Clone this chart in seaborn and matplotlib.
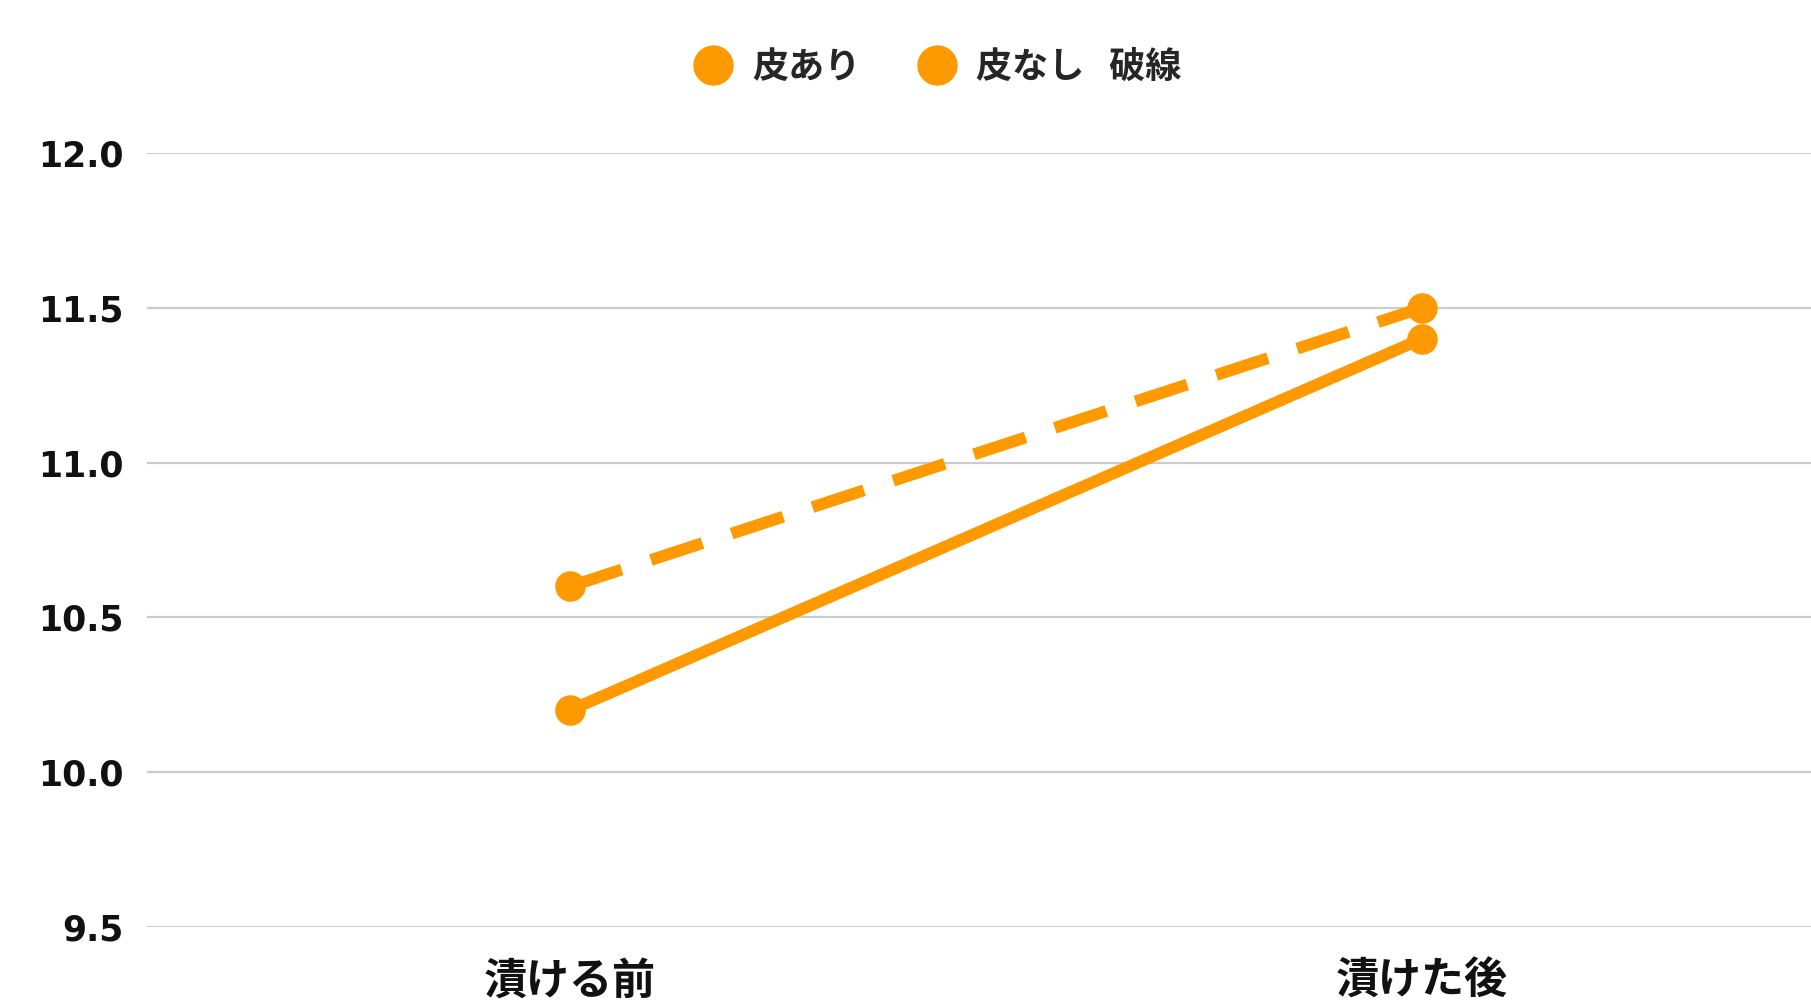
import matplotlib
matplotlib.use("Agg")
import matplotlib.pyplot as plt
from matplotlib.lines import Line2D
import seaborn as sns
import pandas as pd

categories = ["漬ける前", "漬けた後"]
series_names = ["皮あり", "皮なし   破線"]
values_with_skin = [10.2, 11.4]
values_without_skin = [10.6, 11.5]
y_ticks = [9.5, 10.0, 10.5, 11.0, 11.5, 12.0]

ORANGE = "#FF9900"

sns.set_theme(style="white")
plt.rcParams["font.family"] = ["DejaVu Sans", "Noto Sans CJK JP"]

df = pd.DataFrame({
    "cat": categories * 2,
    "value": values_with_skin + values_without_skin,
    "series": [series_names[0]] * 2 + [series_names[1]] * 2,
})

fig = plt.figure(figsize=(18.11, 10.01), dpi=100)
ax = fig.add_axes([0.0812, 0.0739, 0.9188, 0.7733])

sns.lineplot(
    data=df, x="cat", y="value", hue="series", style="series",
    palette=[ORANGE, ORANGE],
    dashes={series_names[0]: "", series_names[1]: (4.6, 2.6)},
    markers={series_names[0]: "o", series_names[1]: "o"},
    markersize=22, markeredgewidth=0, linewidth=8.5,
    legend=False, ax=ax, sort=False,
)
for ln in ax.lines:
    ln.set_dash_capstyle("butt")
    ln.set_solid_capstyle("round")

ax.set_xlim(-0.4965, 1.4566)
ax.set_ylim(9.5, 12.0)
ax.set_yticks(y_ticks)
ax.set_yticklabels([f"{v:.1f}" for v in y_ticks])
ax.yaxis.grid(True, color="#cccccc", linewidth=1.6)
ax.set_axisbelow(True)
for s in ax.spines.values():
    s.set_visible(False)
ax.set_xlabel("")
ax.set_ylabel("")
ax.tick_params(axis="y", length=0, pad=17, labelsize=25)
ax.tick_params(axis="x", length=0, pad=23, labelsize=31)
for t in ax.get_yticklabels():
    t.set_fontweight("bold")
    t.set_color("#111111")
for t in ax.get_xticklabels():
    t.set_fontweight("bold")
    t.set_color("#111111")
    t.set_family(["Noto Sans CJK JP"])

handles = [Line2D([], [], color=ORANGE, marker="o", linestyle="none", markersize=28) for _ in series_names]
fig.legend(handles, series_names, loc="center", bbox_to_anchor=(0.518, 0.933), ncol=2,
           frameon=False, prop={"size": 26, "weight": "bold", "family": ["Noto Sans CJK JP"]},
           handletextpad=0.6, columnspacing=1.6, handlelength=1.0)

fig.savefig("out.png", dpi=100, facecolor="white")
